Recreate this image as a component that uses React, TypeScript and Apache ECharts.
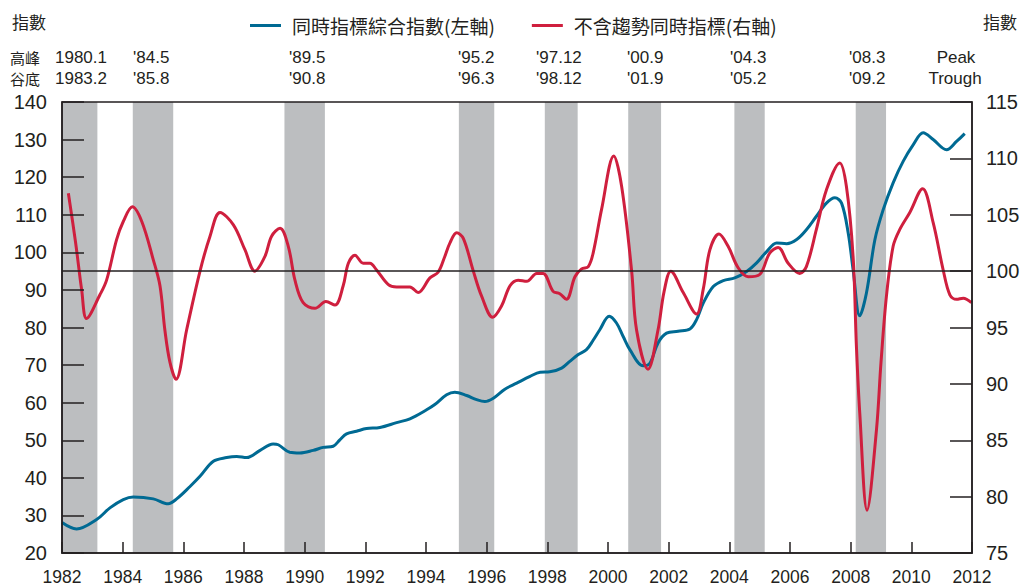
import React, { useEffect, useRef } from "react";
import * as echarts from "echarts";

// ---- Data ----
const blueName = "同時指標綜合指數(左軸)";
const redName = "不含趨勢同時指標(右軸)";

const blueX = [
  1982.0, 1982.48, 1983.14, 1983.58, 1984.02, 1984.35, 1985.01, 1985.5, 1985.78, 1986.22,
  1986.55, 1986.99, 1987.43, 1987.76, 1988.09, 1988.53, 1988.96, 1989.13, 1989.51, 1989.84,
  1990.28, 1990.61, 1990.94, 1991.16, 1991.38, 1991.71, 1992.04, 1992.48, 1993.03, 1993.47,
  1994.02, 1994.29, 1994.68, 1994.95, 1995.34, 1995.67, 1995.94, 1996.22, 1996.6, 1996.99,
  1997.43, 1997.76, 1998.08, 1998.47, 1998.74, 1999.02, 1999.29, 1999.51, 1999.73, 2000.04,
  2000.28, 2000.5, 2000.72, 2001.16, 2001.38, 2001.65, 2001.93, 2002.31, 2002.7, 2002.92,
  2003.14, 2003.47, 2003.8, 2004.18, 2004.57, 2004.9, 2005.23, 2005.56, 2005.89, 2006.22,
  2006.54, 2006.87, 2007.2, 2007.48, 2007.7, 2007.92, 2008.08, 2008.3, 2008.52, 2008.8,
  2009.07, 2009.4, 2009.73, 2010.06, 2010.39, 2010.72, 2011.16, 2011.49, 2011.76,
];
const blueY = [
  28.1, 26.4, 28.9, 32.0, 34.2, 34.9, 34.4, 33.1, 34.4, 37.7,
  40.4, 44.4, 45.4, 45.7, 45.4, 47.3, 49.0, 48.8, 46.8, 46.6,
  47.3, 48.1, 48.4, 50.1, 51.7, 52.4, 53.1, 53.4, 54.7, 55.7,
  58.1, 59.5, 62.1, 62.8, 61.9, 60.8, 60.3, 61.2, 63.6, 65.2,
  67.0, 68.1, 68.2, 69.2, 71.0, 72.8, 74.1, 76.6, 79.4, 83.0,
  81.2, 77.6, 74.1, 69.8, 70.5, 75.9, 78.5, 79.0, 79.6, 82.1,
  86.5, 90.9, 92.5, 93.2, 94.9, 97.2, 100.2, 102.5, 102.3, 103.4,
  106.0, 109.6, 113.1, 114.5, 113.1, 105.1, 95.4, 83.1, 89.2, 103.4,
  111.3, 118.5, 124.2, 128.6, 131.8, 130.0, 127.3, 129.5, 131.6,
];

const redX = [
  1982.21, 1982.45, 1982.65, 1982.81, 1983.25, 1983.47, 1983.8, 1984.02,
  1984.32, 1984.63, 1985.01, 1985.23, 1985.39, 1985.56, 1985.76, 1986.11, 1986.55, 1986.88,
  1987.21, 1987.65, 1988.03, 1988.36, 1988.69, 1988.91, 1989.19, 1989.46, 1989.68, 1989.95,
  1990.34, 1990.7, 1991.0, 1991.27, 1991.44, 1991.66, 1991.93, 1992.15, 1992.37, 1992.76,
  1993.03, 1993.47, 1993.74, 1994.13, 1994.4, 1994.62, 1994.79, 1995.01, 1995.23, 1995.56,
  1995.83, 1996.2, 1996.49, 1996.77, 1997.04, 1997.32, 1997.65, 1997.86, 1998.19, 1998.41,
  1998.63, 1998.91, 1999.13, 1999.35, 1999.51, 1999.79, 2000.19, 2000.45, 2000.78, 2000.94,
  2001.32, 2001.65, 2001.85, 2002.07, 2002.48, 2002.92, 2003.14, 2003.36, 2003.66, 2003.96,
  2004.29, 2004.62, 2005.0, 2005.33, 2005.61, 2005.94, 2006.32, 2006.54, 2006.87, 2007.2,
  2007.64, 2007.86, 2008.08, 2008.19, 2008.3, 2008.54, 2008.85, 2009.0, 2009.18, 2009.4,
  2009.62, 2009.95, 2010.37, 2010.72, 2011.05, 2011.27, 2011.49, 2011.71, 2011.98,
];
const redY = [
  106.9, 102.5, 98.3, 95.8, 97.9, 99.2, 102.8, 104.4,
  105.7, 104.4, 101.0, 98.7, 94.8, 91.9, 90.4, 94.8, 100.0, 103.1,
  105.2, 104.1, 101.9, 100.0, 101.3, 103.1, 103.8, 102.2, 99.2, 97.2,
  96.7, 97.3, 97.0, 98.7, 100.7, 101.4, 100.7, 100.7, 100.1, 98.8,
  98.6, 98.6, 98.1, 99.4, 99.9, 101.3, 102.5, 103.4, 102.9, 100.0,
  97.8, 95.9, 96.9, 98.7, 99.2, 99.1, 99.8, 99.8, 98.2, 98.0,
  97.5, 99.5, 100.2, 100.4, 101.6, 105.5, 110.2, 107.5, 100.0, 94.8,
  91.3, 94.8, 98.2, 100.0, 98.1, 96.2, 98.4, 101.9, 103.3, 102.2,
  100.3, 99.5, 99.7, 101.6, 102.1, 100.7, 99.8, 100.4, 103.7, 107.2,
  109.6, 107.5, 101.3, 93.3, 87.4, 78.8, 85.9, 91.9, 97.8, 102.2,
  103.7, 105.2, 107.3, 104.3, 100.1, 97.9, 97.5, 97.6, 97.2,
];

// recession periods: peak [year, month], trough [year, month]
const peaks = [[1980, 1], [1984, 5], [1989, 5], [1995, 2], [1997, 12], [2000, 9], [2004, 3], [2008, 3]];
const troughs = [[1983, 2], [1985, 8], [1990, 8], [1996, 3], [1998, 12], [2001, 9], [2005, 2], [2009, 2]];

const xMin = 1982;
const xMax = 2012;

// ---- Layout (pixel positions of header labels) ----
const headerX = [55, 133, 289, 458, 536, 627, 730, 849];

const fmtDate = (d: number[], i: number) =>
  i === 0 ? `${d[0]}.${d[1]}` : `'${String(d[0]).slice(2)}.${d[1]}`;

const DARK = "#231f20";
const BLUE = "#006a93";
const RED = "#cf1f3e";
const BAND = "#bcbec0";
const LAT = '"Liberation Sans", Arial, sans-serif';
const CJK = '"Noto Sans CJK TC", "Noto Sans CJK SC", sans-serif';

export default function App() {
  const ref = useRef<HTMLDivElement>(null);
  useEffect(() => {
    if (!ref.current) return;
    const chart = echarts.init(ref.current, null, { renderer: "svg" });

    const bands = peaks.map((p, i) => {
      const t = troughs[i];
      const start = Math.max(xMin, p[0] + (p[1] - 1) / 12);
      const end = t[0] + t[1] / 12;
      return [{ xAxis: start }, { xAxis: end }];
    });

    const txt = (text: string, x: number, y: number, fontSize: number, fontFamily: string, align = "left") => ({
      type: "text", x, y,
      style: { text, fontSize, fontFamily, fill: DARK, align, verticalAlign: "middle" },
    });

    const header: any[] = [
      txt("指數", 12, 21, 17, CJK),
      txt("指數", 983, 21, 17, CJK),
      txt("高峰", 10, 57, 15, CJK),
      txt("谷底", 10, 78, 15, CJK),
      txt("Peak", 956, 57, 17, LAT, "center"),
      txt("Trough", 955, 78, 17, LAT, "center"),
    ];
    peaks.forEach((p, i) => {
      header.push(txt(fmtDate(p, i), headerX[i], 57, 17, LAT));
      header.push(txt(fmtDate(troughs[i], i), headerX[i], 78, 17, LAT));
    });

    const tickStyle = { color: DARK, width: 1.5 };

    chart.setOption({
      animation: false,
      textStyle: { fontFamily: LAT, color: DARK },
      grid: {
        left: 62, right: 54, top: 102, bottom: 34,
        show: true, borderColor: DARK, borderWidth: 1.5, z: 5,
        containLabel: false, outerBoundsMode: "none",
      },
      legend: {
        left: 245, top: 11,
        data: [blueName, redName],
        icon: "rect", itemWidth: 31, itemHeight: 3, itemGap: 37,
        textStyle: { fontSize: 19, fontFamily: CJK, color: DARK, padding: [0, 0, 0, 6] },
      },
      graphic: header,
      xAxis: {
        type: "value", min: xMin, max: xMax, interval: 2, z: 4,
        axisLine: { show: true, lineStyle: tickStyle },
        axisTick: { show: true, inside: true, length: 11, lineStyle: tickStyle },
        axisLabel: { fontSize: 17.5, color: DARK, margin: 15, formatter: (v: number) => String(v) },
        splitLine: { show: false },
      },
      yAxis: [
        {
          type: "value", min: 20, max: 140, interval: 10, position: "left", z: 4,
          axisLine: { show: true, lineStyle: tickStyle },
          axisTick: { show: true, inside: true, length: 22, lineStyle: tickStyle },
          axisLabel: { fontSize: 20, color: DARK, margin: 15 },
          splitLine: { show: false },
        },
        {
          type: "value", min: 75, max: 115, interval: 5, position: "right", z: 4,
          axisLine: { show: true, lineStyle: tickStyle },
          axisTick: { show: true, inside: true, length: 22, lineStyle: tickStyle },
          axisLabel: { fontSize: 20, color: DARK, margin: 14 },
          splitLine: { show: false },
        },
      ],
      series: [
        {
          type: "line", name: "bands", z: 1, data: [], silent: true,
          markArea: { silent: true, itemStyle: { color: BAND }, data: bands },
        },
        {
          type: "line", name: blueName, yAxisIndex: 0, z: 3, smooth: 0.35,
          showSymbol: false, symbol: "none",
          data: blueX.map((x, i) => [x, blueY[i]]),
          lineStyle: { color: BLUE, width: 3 }, itemStyle: { color: BLUE },
          markLine: {
            silent: true, symbol: "none", label: { show: false },
            lineStyle: { color: DARK, width: 1.5, type: "solid" },
            data: [{ yAxis: 95 }],
          },
        },
        {
          type: "line", name: redName, yAxisIndex: 1, z: 3, smooth: 0.35,
          showSymbol: false, symbol: "none",
          data: redX.map((x, i) => [x, redY[i]]),
          lineStyle: { color: RED, width: 3 }, itemStyle: { color: RED },
        },
      ],
    });
    return () => chart.dispose();
  }, []);
  return <div ref={ref} style={{ position: "absolute", left: 0, top: 0, width: 1026, height: 587 }} />;
}
